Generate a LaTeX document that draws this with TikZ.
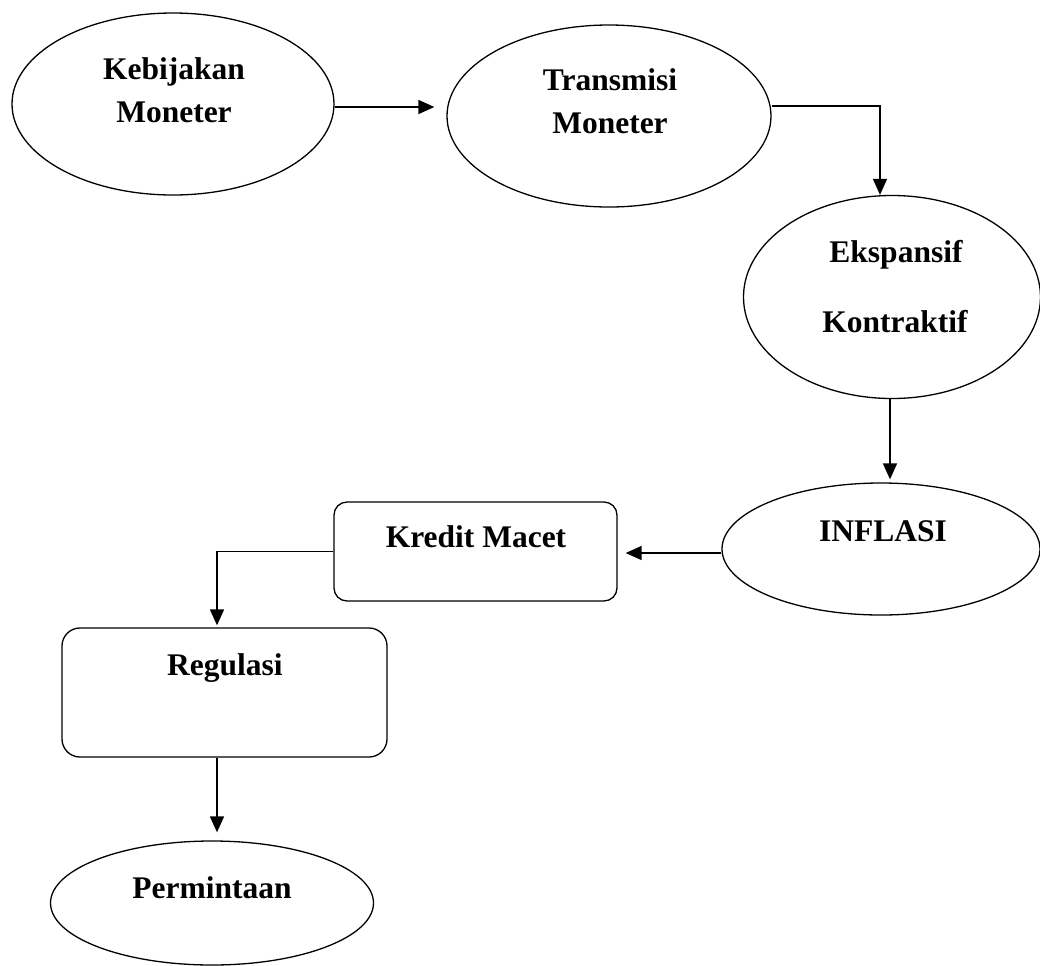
\documentclass[tikz,border=0pt]{standalone}
\usepackage{fontspec}
\setmainfont{Liberation Serif}
\usetikzlibrary{shapes.geometric,arrows.meta}

\begin{document}
\begin{tikzpicture}[x=0.5pt,y=-0.5pt,
    oval/.style={draw,ellipse,line width=0.65pt,inner sep=0pt},
    kotak/.style={draw,rectangle,rounded corners=7pt,line width=0.65pt,inner sep=0pt},
    lbl/.style={anchor=base,inner sep=0pt,font=\fontsize{15.75}{19}\selectfont\bfseries},
    panah/.style={-{Triangle[length=8pt,width=7pt]},line width=0.85pt}]
          \useasboundingbox (0,0) rectangle (1040,965);
          % bentuk
          \node[oval,minimum width=161pt,minimum height=91pt] (kebijakan) at (173,104) {};
          \node[oval,minimum width=162pt,minimum height=91pt] (transmisi) at (609,116) {};
          \node[oval,minimum width=148.5pt,minimum height=101.5pt] (ekspansif) at (892,297) {};
          \node[oval,minimum width=159pt,minimum height=66pt] (inflasi) at (881,549) {};
          \node[kotak,minimum width=141.5pt,minimum height=49.5pt,rounded corners=6.5pt] (kredit) at (475.5,551.5) {};
          \node[kotak,minimum width=162.5pt,minimum height=64.5pt,rounded corners=9pt] (regulasi) at (224.5,692.5) {};
          \node[oval,minimum width=161.5pt,minimum height=62pt] (permintaan) at (212,903) {};
          % teks
          \node[lbl] (tkebijakan) at (174,79) {Kebijakan};
          \node[lbl] (tmoneter1) at (174,122) {Moneter};
          \node[lbl] (ttransmisi) at (610,90) {Transmisi};
          \node[lbl] (tmoneter2) at (610,133) {Moneter};
          \node[lbl] (tekspansif) at (896,262) {Ekspansif};
          \node[lbl] (tkontraktif) at (895,332) {Kontraktif};
          \node[lbl] (tinflasi) at (883,541) {INFLASI};
          \node[lbl] (tkredit) at (476,547) {Kredit Macet};
          \node[lbl] (tregulasi) at (225,675) {Regulasi};
          \node[lbl] (tpermintaan) at (212,898) {Permintaan};
          % panah
          \draw[panah,shorten >=6pt] ([yshift=-1.5pt]kebijakan.east) -- ([yshift=-1.5pt]kebijakan.east -| transmisi.west);
          \draw[panah] ([yshift=5pt]transmisi.east) -| ([xshift=-6pt]ekspansif.north);
          \draw[panah,shorten >=1.5pt] ([xshift=-1pt]ekspansif.south) -- ([xshift=-1pt]ekspansif.south |- inflasi.north);
          \draw[panah,shorten >=4pt] ([yshift=-2pt]inflasi.west) -- ([yshift=-2pt]inflasi.west -| kredit.east);
          \draw[panah,shorten >=1pt] (kredit.west) -| ([xshift=-3.75pt]regulasi.north);
          \draw[panah,shorten >=4pt] ([xshift=-3.75pt]regulasi.south) -- ([xshift=-3.75pt]regulasi.south |- permintaan.north);
        \end{tikzpicture}
\end{document}
